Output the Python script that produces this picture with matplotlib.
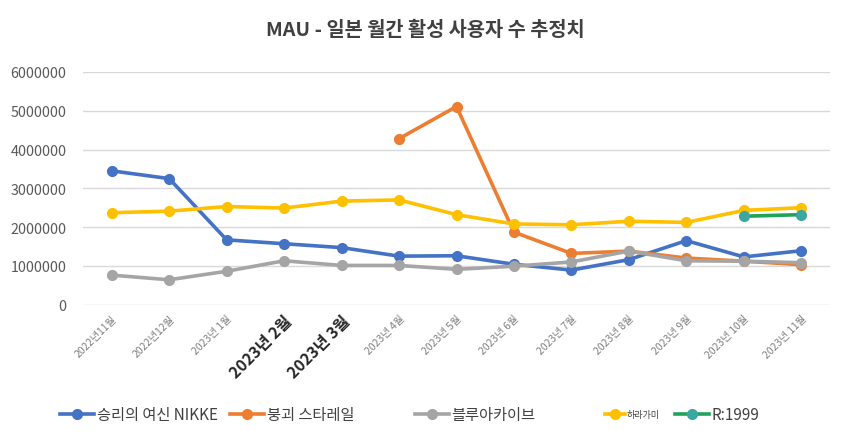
import matplotlib.pyplot as plt
import numpy as np

plt.rcParams['font.family'] = ['Noto Sans CJK KR', 'DejaVu Sans']

months = ["2022년11월", "2022년12월", "2023년 1월", "2023년 2월", "2023년 3월",
          "2023년 4월", "2023년 5월", "2023년 6월", "2023년 7월", "2023년 8월",
          "2023년 9월", "2023년 10월", "2023년 11월"]
bold_months = ["2023년 2월", "2023년 3월"]

nikke = [3450000, 3250000, 1670000, 1570000, 1470000, 1250000, 1260000,
         1040000, 890000, 1160000, 1650000, 1230000, 1390000]
starrail = [np.nan, np.nan, np.nan, np.nan, np.nan, 4280000, 5110000,
            1870000, 1320000, 1380000, 1200000, 1120000, 1030000]
bluearchive = [760000, 640000, 860000, 1130000, 1010000, 1010000, 910000,
               990000, 1100000, 1380000, 1130000, 1120000, 1080000]
haragami = [2370000, 2410000, 2530000, 2490000, 2670000, 2700000, 2320000,
            2080000, 2060000, 2150000, 2120000, 2430000, 2500000]
r1999 = [np.nan] * 11 + [2280000, 2320000]

x = np.arange(len(months))

fig = plt.figure(figsize=(8.5, 4.35), dpi=100)
ax = fig.add_axes([83 / 850, 1 - 305.6 / 435, (830 - 83) / 850, (305.6 - 73) / 435])

ln_nikke, = ax.plot(x, nikke, color="#4472C4", lw=2.6, marker="o", ms=7)
ln_star, = ax.plot(x, starrail, color="#ED7D31", lw=2.6, marker="o", ms=7)
ln_ba, = ax.plot(x, bluearchive, color="#A5A5A5", lw=2.6, marker="o", ms=7)
ln_hara, = ax.plot(x, haragami, color="#FFC000", lw=2.6, marker="o", ms=7)
ln_r, = ax.plot(x, r1999, color="#1FA25A", lw=2.6, marker="o", ms=7,
                markerfacecolor="#3AA7A0", markeredgecolor="#3AA7A0")

ax.set_xlim(-0.5, 12.5)
ax.set_ylim(0, 6000000)
ax.set_yticks(np.arange(0, 6000001, 1000000))
ax.set_yticklabels([str(v) for v in range(0, 6000001, 1000000)])
ax.grid(True, axis="y", color="#D9D9D9", lw=1)
ax.set_axisbelow(True)
for s in ax.spines.values():
    s.set_visible(False)
ax.tick_params(axis="y", length=0, labelsize=10.3, labelcolor="#595959", pad=12)
ax.tick_params(axis="x", length=0, pad=6)

ax.set_xticks(x)
ax.set_xticklabels(months, rotation=45, ha="right", va="top", rotation_mode="anchor")
for lbl in ax.get_xticklabels():
    if lbl.get_text() in bold_months:
        lbl.set_fontsize(11.5)
        lbl.set_fontweight("bold")
        lbl.set_color("#262626")
    else:
        lbl.set_fontsize(7.5)
        lbl.set_color("#7F7F7F")

fig.text(0.5, 1 - 30 / 435, "MAU - 일본 월간 활성 사용자 수 추정치", ha="center",
         va="center", fontsize=14.2, fontweight="bold", color="#404040")

legend_items = [
    (ln_nikke, "승리의 여신 NIKKE", 60, 11),
    (ln_star, "붕괴 스타레일", 230, 11),
    (ln_ba, "블루아카이브", 415, 11),
    (ln_hara, "하라가미", 605, 6.5),
    (ln_r, "R:1999", 675, 11),
]
for h, lab, px, fs in legend_items:
    fig.legend(handles=[h], labels=[lab], loc="center left",
               bbox_to_anchor=(px / 850, 1 - 416 / 435), frameon=False,
               fontsize=fs, handlelength=2.2, handletextpad=0.2,
               borderaxespad=0, borderpad=0, labelcolor="#404040")

plt.savefig("out.png", dpi=100, facecolor="white")
